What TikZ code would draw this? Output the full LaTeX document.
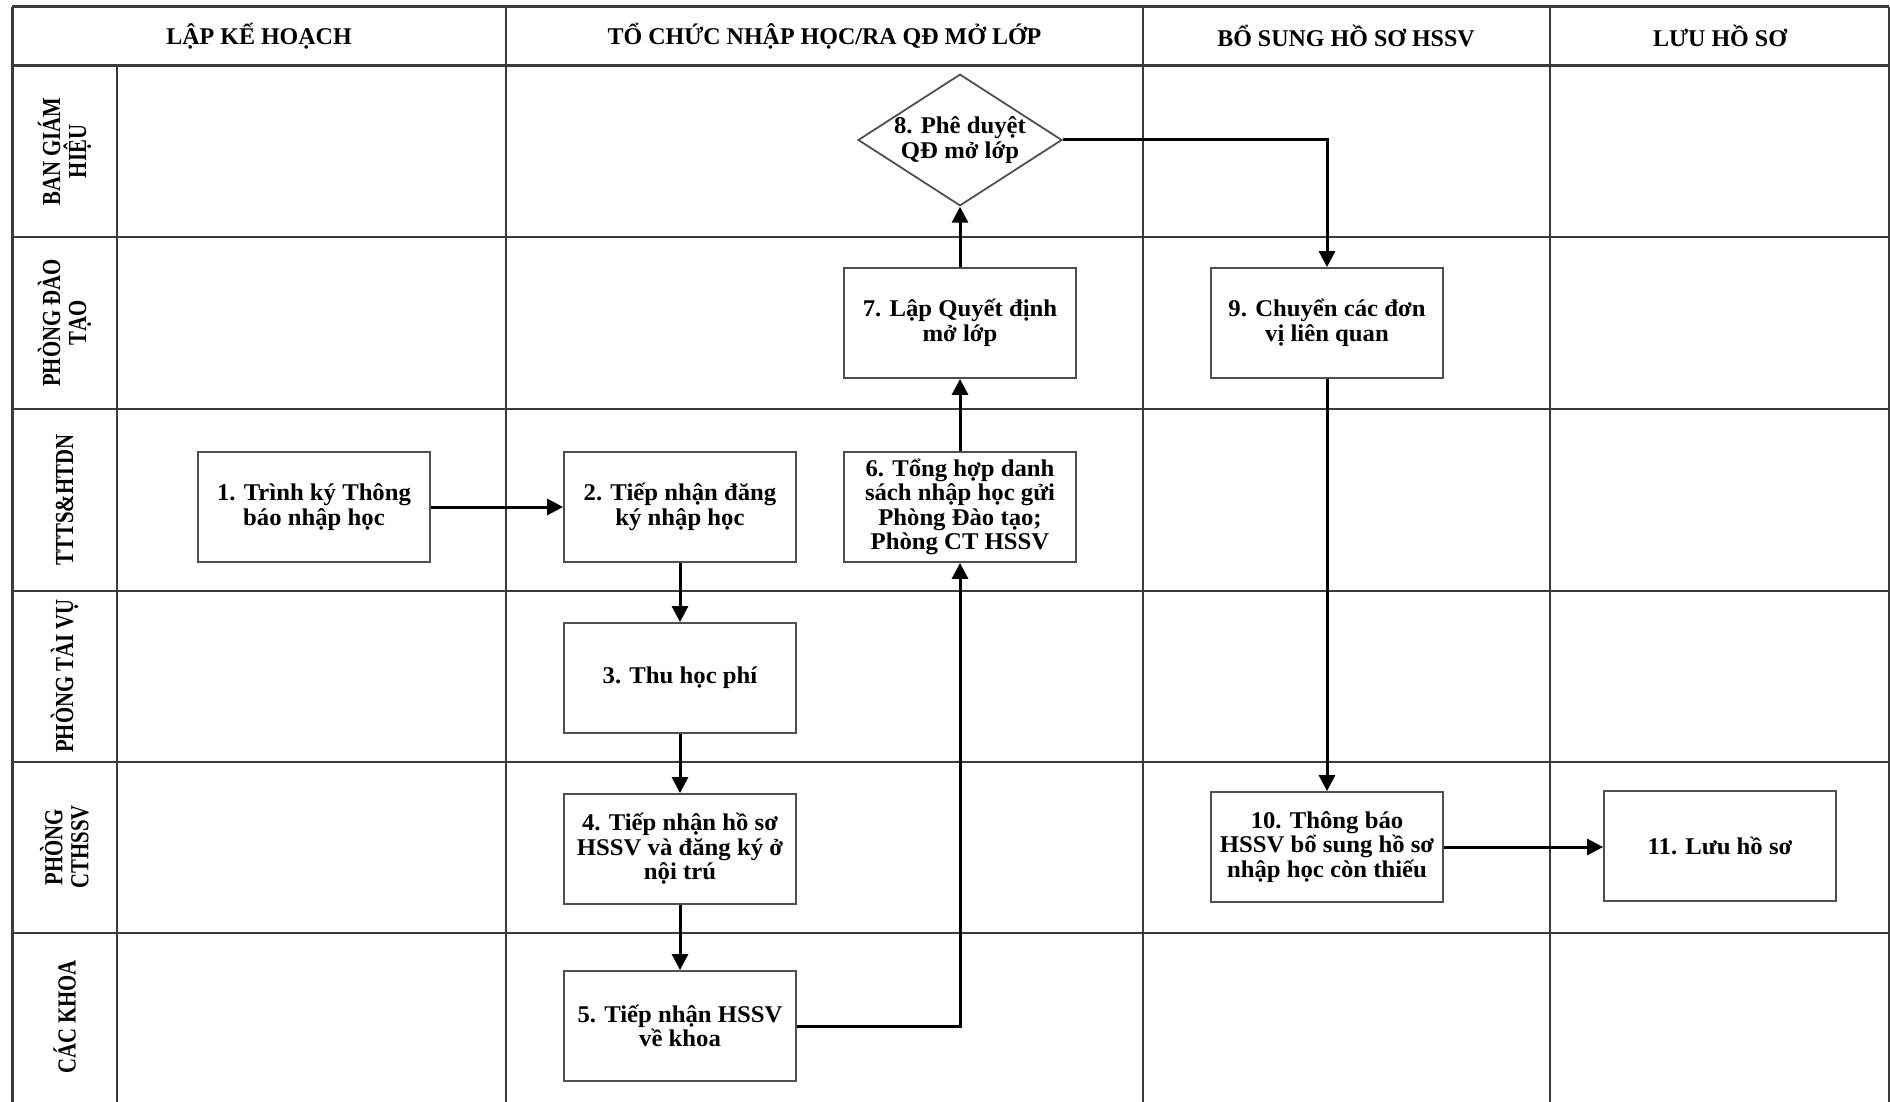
\documentclass[tikz,border=0pt]{standalone}
\usepackage{fontspec}
\setmainfont{Liberation Serif}
\newfontfamily\lanefont{Liberation Serif}[FakeStretch=0.8]
\newfontfamily\boxfont{Liberation Serif}[FakeStretch=1.03]
\usetikzlibrary{arrows.meta,shapes.geometric}
\definecolor{gridc}{HTML}{3A3A3A}
\definecolor{boxc}{HTML}{505050}
\tikzset{
  gridline/.style={draw=gridc, line width=2.2pt},
  thickline/.style={draw=gridc, line width=3pt},
  headtxt/.style={font=\fontsize{24}{26}\selectfont\bfseries, inner sep=0pt},
  lanetxt/.style={font=\lanefont\fontsize{26}{26}\selectfont\bfseries, rotate=90, align=center, inner sep=0pt},
  stepbox/.style={draw=boxc, line width=1.8pt, fill=white, minimum width=232pt, minimum height=110pt,
     align=center, inner sep=2pt, font=\boxfont\fontsize{24}{24.5}\selectfont\bfseries},
  decbox/.style={diamond, draw=boxc, line width=1.8pt, fill=white, minimum width=200pt, minimum height=129pt,
     aspect=1.55, align=center, inner sep=0pt, font=\boxfont\fontsize{24}{24.5}\selectfont\bfseries},
  arr/.style={draw=black, line width=3pt, -{Triangle[length=16pt,width=16pt]}}
}
\begin{document}
\begin{tikzpicture}[x=1pt,y=-1pt]
\useasboundingbox (0,0) rectangle (1890,1102);
\fill[white] (0,0) rectangle (1890,1102);
% grid
\draw[thickline] (12,7) -- (1889,7);
\draw[thickline] (12,66) -- (1889,66);
\draw[thickline] (12,7) -- (12,1102);
\draw[gridline] (1889,7) -- (1889,1102);
\draw[gridline] (117,66) -- (117,1102);
\draw[gridline] (506,7) -- (506,1102);
\draw[gridline] (1143,7) -- (1143,1102);
\draw[gridline] (1550,7) -- (1550,1102);
\foreach \yy in {237,409,591,762,933} {\draw[gridline] (12,\yy) -- (1889,\yy);}
% headers
\node[headtxt] (h1) at (259,36) {LẬP KẾ HOẠCH};
\node[headtxt] (h2) at (824.5,36) {TỔ CHỨC NHẬP HỌC/RA QĐ MỞ LỚP};
\node[headtxt] (h3) at (1346,36) {BỔ SUNG HỒ SƠ HSSV};
\node[headtxt] (h4) at (1720,36) {LƯU HỒ SƠ};
% lanes
\node[lanetxt] (l1) at (64.5,151.5) {BAN GIÁM\\HIỆU};
\node[lanetxt] (l2) at (64.5,323) {PHÒNG ĐÀO\\TẠO};
\node[lanetxt] (l3) at (64.5,500) {TTTS\&HTDN};
\node[lanetxt] (l4) at (64.5,676) {PHÒNG TÀI VỤ};
\node[lanetxt] (l5) at (64.5,847) {PHÒNG\\CTHSSV};
\node[lanetxt] (l6) at (64.5,1017) {CÁC KHOA};
% steps
\node[stepbox] (b1) at (314,507) {1. Trình ký Thông\\báo nhập học};
\node[stepbox] (b2) at (680,507) {2. Tiếp nhận đăng\\ký nhập học};
\node[stepbox] (b3) at (680,678) {3. Thu học phí};
\node[stepbox] (b4) at (680,849) {4. Tiếp nhận hồ sơ\\HSSV và đăng ký ở\\nội trú};
\node[stepbox] (b5) at (680,1026) {5. Tiếp nhận HSSV\\về khoa};
\node[stepbox] (b6) at (960,507) {6. Tổng hợp danh\\sách nhập học gửi\\Phòng Đào tạo;\\Phòng CT HSSV};
\node[stepbox] (b7) at (960,323) {7. Lập Quyết định\\mở lớp};
\node[decbox] (d8) at (960,140) {8. Phê duyệt\\QĐ mở lớp};
\node[stepbox] (b9) at (1327,323) {9. Chuyển các đơn\\vị liên quan};
\node[stepbox] (b10) at (1327,847) {10. Thông báo\\HSSV bổ sung hồ sơ\\nhập học còn thiếu};
\node[stepbox] (b11) at (1720,846) {11. Lưu hồ sơ};
% connectors
\draw[arr] (b1) -- (b2);
\draw[arr] (b2) -- (b3);
\draw[arr] (b3) -- (b4);
\draw[arr] (b4) -- (b5);
\draw[arr] (b5.east) -| (b6.south);
\draw[arr] (b6) -- (b7);
\draw[arr] (b7) -- (d8);
\draw[arr] (d8.east) -| (b9.north);
\draw[arr] (b9) -- (b10);
\draw[arr] (b10.east) -- (b11.west |- b10.east);
\end{tikzpicture}
\end{document}
